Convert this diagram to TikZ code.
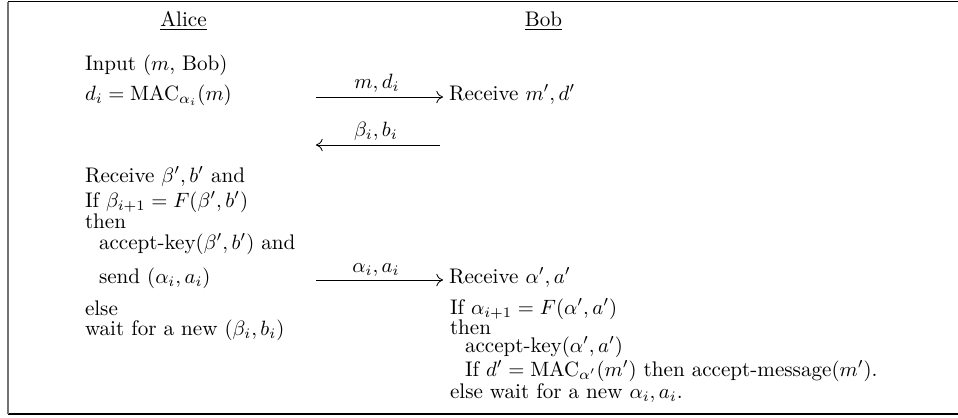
\documentclass[tikz,border=0pt]{standalone}
\usetikzlibrary{arrows.meta}
\begin{document}
\begin{tikzpicture}[x=0.4831pt, y=-0.4831pt,
  txt/.style={anchor=base west, inner sep=0pt, outer sep=0pt, text height=7pt, text depth=2pt, font=\fontsize{10.2}{12}\selectfont},
  lbl/.style={anchor=base, inner sep=0pt, outer sep=0pt, text height=7pt, text depth=2pt, font=\fontsize{10.2}{12}\selectfont},
  msg/.style={line width=0.4pt, -{Computer Modern Rightarrow[length=3.2pt,width=6pt]}},
  frame/.style={line width=0.5pt, draw=black}]
\useasboundingbox (0,0) rectangle (958,417);
% frame
\coordinate (ftl) at (8,1.5);
\coordinate (ftr) at (958,1.5);
\coordinate (fbl) at (8,414);
\coordinate (fbr) at (958,414);
\draw[frame] (ftr) -- (ftl);
\draw[frame] (fbl) -- (fbr);
\draw[line width=1pt, draw=black!55] (ftl) -- (fbl);
% headers
\node[lbl] (alice) at (183.5,26) {\underline{Alice}};
\node[lbl] (bob) at (543.5,26) {\underline{Bob}};
% Alice column
\node[txt] (a1) at (85,70.5) {Input $(m$, Bob$)$};
\node[txt] (a2) at (85,100) {$d_i = \mathrm{MAC}_{\alpha_i}(m)$};
\node[txt] (a3) at (85,182) {Receive $\beta', b'$ and};
\node[txt] (a4) at (85,207) {If $\beta_{i+1} = F(\beta', b')$};
\node[txt] (a5) at (85,228) {then};
\node[txt] (a6) at (99,249) {accept-key$(\beta', b')$ and};
\node[txt] (a7) at (99,283) {send $(\alpha_i, a_i)$};
\node[txt] (a8) at (85,315) {else};
\node[txt] (a9) at (85,335) {wait for a new $(\beta_i, b_i)$};
% Bob column
\node[txt] (b1) at (449,100) {Receive $m', d'$};
\node[txt] (b2) at (449,283) {Receive $\alpha', a'$};
\node[txt] (b3) at (450,314) {If $\alpha_{i+1} = F(\alpha', a')$};
\node[txt] (b4) at (450,334) {then};
\node[txt] (b5) at (465,352) {accept-key$(\alpha', a')$};
\node[txt] (b6) at (465,376) {If $d' = \mathrm{MAC}_{\alpha'}(m')$ then accept-message$(m')$.};
\node[txt] (b7) at (450,398) {else wait for a new $\alpha_i, a_i$.};
% messages
\coordinate (m1s) at (316,97);
\coordinate (m1e) at (443,97);
\coordinate (m2s) at (440,145);
\coordinate (m2e) at (316,145);
\coordinate (m3s) at (316,280);
\coordinate (m3e) at (443,280);
\draw[msg] (m1s) -- (m1e);
\draw[msg] (m2s) -- (m2e);
\draw[msg] (m3s) -- (m3e);
\node[lbl] (l1) at (377,88) {$m, d_i$};
\node[lbl] (l2) at (376,136.5) {$\beta_i, b_i$};
\node[lbl] (l3) at (376,272) {$\alpha_i, a_i$};
\end{tikzpicture}
\end{document}
